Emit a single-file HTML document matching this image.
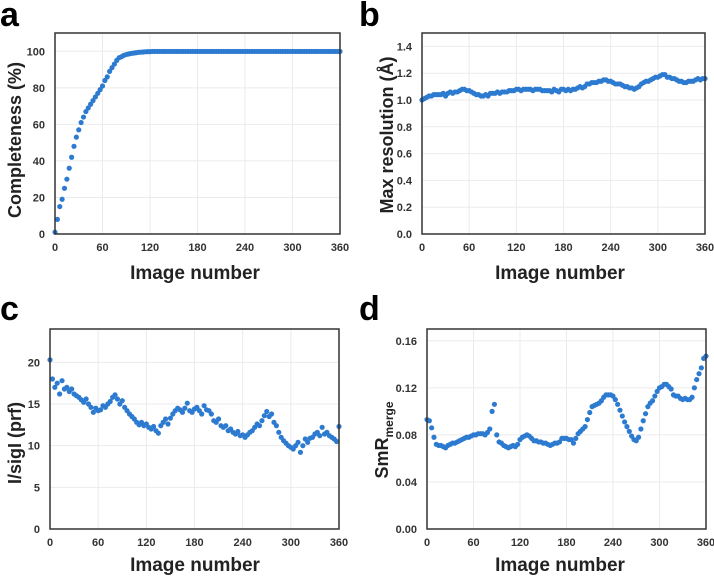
<!DOCTYPE html>
<html><head><meta charset="utf-8"><style>
html,body{margin:0;padding:0;background:#fff;}
svg{display:block;font-family:"Liberation Sans",Arial,sans-serif;}
</style></head><body>
<svg id="fig" width="714" height="576" viewBox="0 0 714 576" xmlns="http://www.w3.org/2000/svg"></svg>
<script>
const xTicks = [0,60,120,180,240,300,360];
const completeness = [1,8,15,19,25,30,36,42,48,53,57,61,64,67,69,71,73,75,77,79,81,84,86,89,91,93,95,96.5,97,97.8,98.2,98.5,98.8,99,99.2,99.4,99.5,99.6,99.7,99.8,
99.8,99.9,99.9,99.9,99.9,99.9,99.9,99.9,99.9,99.9,99.9,99.9,99.9,99.9,99.9,99.9,99.9,99.9,99.9,99.9,99.9,99.9,99.9,99.9,99.9,99.9,99.9,99.9,99.9,99.9,
99.9,99.9,99.9,99.9,99.9,99.9,99.9,99.9,99.9,99.9,99.9,99.9,99.9,99.9,99.9,99.9,99.9,99.9,99.9,99.9,99.9,99.9,99.9,99.9,99.9,99.9,99.9,99.9,99.9,99.9,
99.9,99.9,99.9,99.9,99.9,99.9,99.9,99.9,99.9,99.9,99.9,99.9,99.9,99.9,99.9,99.9,99.9,99.9,99.9,99.9,99.9];
const maxRes = [1.0,1.01,1.02,1.03,1.03,1.04,1.04,1.04,1.04,1.05,1.03,1.05,1.06,1.05,1.06,1.06,1.07,1.08,1.08,1.07,1.07,1.06,1.05,1.04,1.04,1.03,1.03,1.04,1.03,1.05,
1.05,1.05,1.06,1.05,1.06,1.06,1.06,1.07,1.07,1.07,1.08,1.08,1.07,1.08,1.08,1.08,1.08,1.07,1.08,1.08,1.08,1.07,1.07,1.07,1.07,1.06,1.08,1.07,1.06,1.08,
1.08,1.07,1.08,1.07,1.08,1.08,1.09,1.10,1.09,1.10,1.12,1.12,1.13,1.13,1.13,1.14,1.14,1.15,1.15,1.14,1.14,1.13,1.12,1.12,1.12,1.11,1.10,1.10,1.09,1.09,
1.08,1.09,1.10,1.12,1.13,1.14,1.14,1.15,1.16,1.17,1.17,1.18,1.19,1.19,1.17,1.17,1.16,1.16,1.15,1.14,1.14,1.13,1.13,1.14,1.14,1.14,1.15,1.16,1.15,1.16,1.16];
const iSigI = [20.3,18,17,17.5,16.2,17.8,16.8,17,16.5,16.8,16.2,16,15.8,15.5,15.2,15.6,15,14.6,14,14.5,14.2,14.3,14.8,14.6,15,15.3,15.8,16.1,15.6,15,
15.4,14.6,14.2,13.8,13.5,13.2,12.8,12.5,12.8,12.4,12.6,12.2,12,12.3,11.8,11.5,12.4,12.8,13.2,12.6,13.3,13.8,14.2,14.5,14.3,14,14.5,15.1,14.2,14,
14.4,14.6,14.2,13.8,14.8,14.3,14.2,13.8,13,12.8,13.2,12.4,12.2,12.4,11.8,12,11.6,11.4,11.7,11.2,11.3,11,11.3,11.6,11.8,12.2,12.6,12.4,13,13.6,
14.1,13.5,13.8,12.8,12.4,11.6,11,10.6,10.3,10,9.8,9.6,10,10.4,9.2,10,10.8,10.4,10.9,11,11.4,11.6,11.2,12.2,11.4,11.6,11.2,11,10.8,10.5,12.3];
const smr = [0.093,0.092,0.086,0.078,0.072,0.071,0.071,0.070,0.069,0.071,0.072,0.073,0.073,0.074,0.075,0.076,0.077,0.078,0.078,0.079,0.080,0.080,0.081,0.081,0.081,0.080,0.082,0.085,0.100,0.106,
0.080,0.074,0.073,0.071,0.070,0.069,0.070,0.071,0.070,0.072,0.076,0.078,0.079,0.080,0.079,0.077,0.075,0.075,0.074,0.074,0.073,0.073,0.072,0.071,0.072,0.073,0.073,0.074,0.077,0.077,
0.077,0.076,0.076,0.073,0.077,0.081,0.083,0.085,0.087,0.093,0.099,0.104,0.105,0.106,0.107,0.109,0.112,0.114,0.114,0.114,0.113,0.110,0.106,0.101,0.096,0.091,0.087,0.083,0.079,0.076,
0.075,0.078,0.085,0.092,0.098,0.104,0.107,0.109,0.113,0.117,0.120,0.121,0.123,0.123,0.121,0.119,0.114,0.113,0.113,0.111,0.110,0.111,0.110,0.110,0.112,0.120,0.127,0.132,0.137,0.145,0.147];
const yTicksA = [0,20,40,60,80,100], yLabA = ["0","20","40","60","80","100"];
const yTicksB = [0,0.2,0.4,0.6,0.8,1.0,1.2,1.4], yLabB = ["0.0","0.2","0.4","0.6","0.8","1.0","1.2","1.4"];
const yTicksC = [0,5,10,15,20], yLabC = ["0","5","10","15","20"];
const yTicksD = [0,0.04,0.08,0.12,0.16], yLabD = ["0.00","0.04","0.08","0.12","0.16"];

const NS="http://www.w3.org/2000/svg";
const svg=document.getElementById('fig');
function mk(tag,attrs,parent){const e=document.createElementNS(NS,tag);for(const k in attrs)e.setAttribute(k,attrs[k]);(parent||svg).appendChild(e);return e;}

function chart(id,letter,L,T,R,B,ymax,yT,yL,vals,yTitle,yTitleX,titleCY,xTitleX,xTitleY,letterX,letterY,sub){
  const g=mk('g',{});
  
  
  const xs=v=>L+(v/360)*(R-L);
  const ys=v=>B-(v/ymax)*(B-T);
  xTicks.forEach(t=>{
    const l=mk('line',{x1:xs(t),x2:xs(t),y1:T,y2:B,stroke:'#ebebeb','stroke-width':1},g);
    
    
    const tx=mk('text',{x:xs(t),y:B+17,'text-anchor':'middle','font-size':11,'font-weight':'bold',fill:'#333'},g);
    tx.textContent=t;
    
    
  });
  yT.forEach((t,i)=>{
    const l=mk('line',{x1:L,x2:R,y1:ys(t),y2:ys(t),stroke:'#ebebeb','stroke-width':1},g);
    
    
    const tx=mk('text',{x:L-10,y:ys(t)+4,'text-anchor':'end','font-size':11,'font-weight':'bold',fill:'#333'},g);
    tx.textContent=yL[i];
    
    
  });
  vals.forEach((v,i)=>{
    const c=mk('circle',{cx:xs(i*3),cy:ys(v),r:2.6,fill:'#2d7bd0'},g);
    
    
  });
  const box=mk('rect',{x:L,y:T,width:R-L,height:B-T,fill:'none',stroke:'#333','stroke-width':1.5},g);
  
  
  const xt=mk('text',{x:xTitleX,y:xTitleY,'text-anchor':'middle','font-size':19,'font-weight':'bold',fill:'#222'},g);
  xt.textContent='Image number';
  
  
  const yt=mk('text',{x:0,y:0,'text-anchor':'middle','font-size':18,'font-weight':'bold',fill:'#222',transform:`translate(${yTitleX},${titleCY}) rotate(-90)`},g);
  yt.textContent=yTitle;
  if(sub){const ts=mk('tspan',{'font-size':12,dy:5},yt);ts.textContent=sub;}
  
  
  const lt=mk('text',{x:letterX,y:letterY,'font-size':34,'font-weight':'bold',fill:'#000'},g);
  lt.textContent=letter;
  
  
}
chart('a','a',55,33,340,234,110,yTicksA,yLabA,completeness,'Completeness (%)',21,140,195,279,0,26,null);
chart('b','b',422,33,705,234,1.5,yTicksB,yLabB,maxRes,'Max resolution (Å)',393,135,560,279,359,26,null);
chart('c','c',50,329,339,529,24,yTicksC,yLabC,iSigI,'I/sigI (prf)',21,443,195,571,0,320,null);
chart('d','d',427,329,706,529,0.17,yTicksD,yLabD,smr,'SmR',388,440,560,571,359,320,'merge');
</script>
</body></html>
